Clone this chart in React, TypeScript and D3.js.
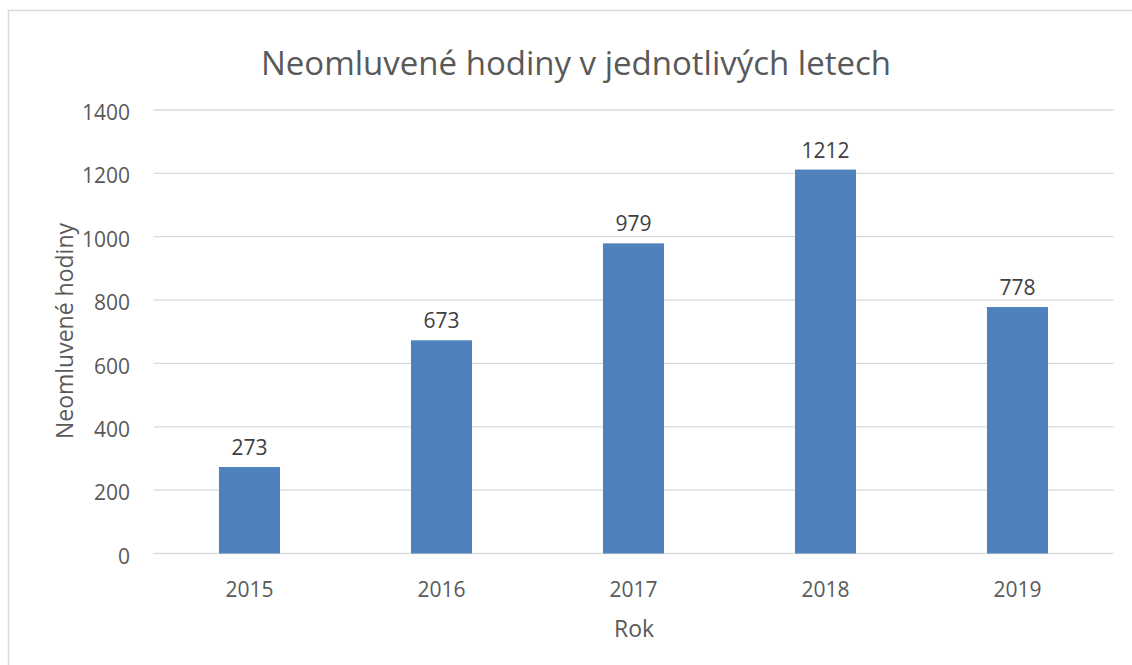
import React from "react";
import * as d3 from "d3";

const categories = ["2015", "2016", "2017", "2018", "2019"];
const values = [273, 673, 979, 1212, 778];
const yTicks = [0, 200, 400, 600, 800, 1000, 1200, 1400];
const title = "Neomluvené hodiny v jednotlivých letech";
const yTitle = "Neomluvené hodiny";
const xTitle = "Rok";

const W = 1132;
const H = 665;
const FONT = "'Open Sans', sans-serif";
const TEXT = "#595959";

export default function App() {
  const x = d3.scaleBand<string>().domain(categories).range([153.5, 1113.5]).paddingInner(0.682).paddingOuter(0.341);
  const y = d3.scaleLinear().domain([0, 1400]).range([553.5, 110]);
  return (
    <svg width={W} height={H} style={{ position: "absolute", left: 0, top: 0 }}>
      <rect x={0} y={0} width={W} height={H} fill="#fff" />
      <rect x={8.5} y={10.5} width={W} height={H} fill="none" stroke="#D9D9D9" strokeWidth={1.5} />
      <text x={576} y={74.5} textAnchor="middle" fontFamily={FONT} fontSize={33} fill={TEXT}>{title}</text>
      {yTicks.map((t) => (
        <g key={t}>
          <line x1={153.5} x2={1113.5} y1={y(t)} y2={y(t)} stroke="#D9D9D9" strokeWidth={1.3} />
          <text x={130} y={y(t)} dy="0.48em" textAnchor="end" fontFamily={FONT} fontSize={21} fill={TEXT}>{t}</text>
        </g>
      ))}
      {categories.map((c, i) => (
        <g key={c}>
          <rect x={x(c)} y={y(values[i])} width={x.bandwidth()} height={y(0) - y(values[i])} fill="#4F81BD" />
          <text x={(x(c) as number) + x.bandwidth() / 2} y={y(values[i]) - 12} textAnchor="middle" fontFamily={FONT} fontSize={21} fill="#404040">{values[i]}</text>
          <text x={(x(c) as number) + x.bandwidth() / 2} y={597} textAnchor="middle" fontFamily={FONT} fontSize={21} fill={TEXT}>{c}</text>
        </g>
      ))}
      <text x={634} y={637} textAnchor="middle" fontFamily={FONT} fontSize={23} fill={TEXT}>{xTitle}</text>
      <text transform="translate(73,331) rotate(-90)" textAnchor="middle" fontFamily={FONT} fontSize={23} fill={TEXT}>{yTitle}</text>
    </svg>
  );
}
